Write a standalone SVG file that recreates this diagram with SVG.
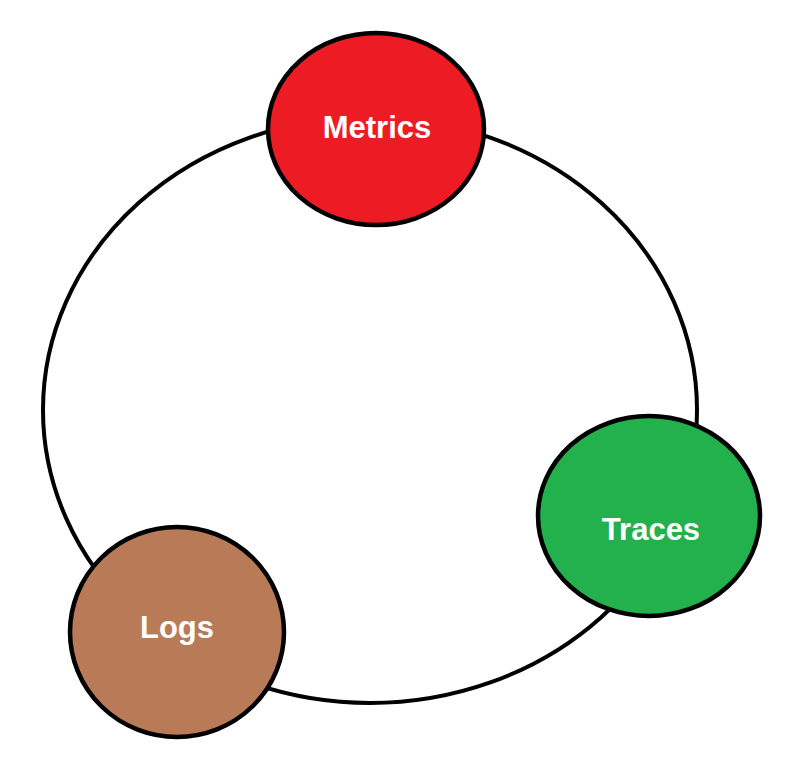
<svg xmlns="http://www.w3.org/2000/svg" width="808" height="758" viewBox="0 0 808 758">
  <style>
    .ring { fill: none; stroke: #000; stroke-width: 4; }
    .node { stroke: #000; stroke-width: 4.5; }
    .label { font-family: "Liberation Sans", Arial, sans-serif; font-weight: bold; font-size: 31px; fill: #fff; text-anchor: middle; }
  </style>
  <rect width="808" height="758" fill="#fff"/>
  <g id="connectors">
    <ellipse class="ring" cx="370" cy="410" rx="327" ry="293"/>
  </g>
  <g id="metrics">
    <ellipse class="node" cx="376" cy="129" rx="108" ry="96" fill="#ED1C24"/>
    <text class="label" x="377" y="138">Metrics</text>
  </g>
  <g id="traces">
    <ellipse class="node" cx="649" cy="516" rx="111" ry="100" fill="#22B14C"/>
    <text class="label" x="651" y="540">Traces</text>
  </g>
  <g id="logs">
    <ellipse class="node" cx="177" cy="632" rx="107" ry="105" fill="#B97A57"/>
    <text class="label" x="177" y="638">Logs</text>
  </g>
</svg>
